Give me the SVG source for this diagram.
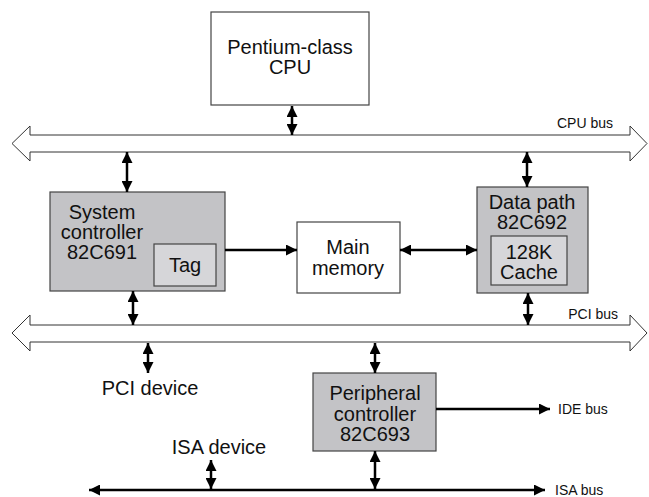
<svg xmlns="http://www.w3.org/2000/svg" width="649" height="497" viewBox="0 0 649 497">
<defs>
<marker id="ah" viewBox="0 0 10 10" refX="10" refY="5" markerWidth="11" markerHeight="11" markerUnits="userSpaceOnUse" orient="auto-start-reverse">
<path d="M0,0 L10,5 L0,10 Z" fill="#000"/>
</marker>
</defs>
<style>
text{font-family:"Liberation Sans",Arial,sans-serif;fill:#111}
.lbl{font-size:20px;text-anchor:middle}
.sm{font-size:14px}
.box{fill:#fff;stroke:#444;stroke-width:1.2}
.gbox{fill:#c3c3c6;stroke:#444;stroke-width:1.2}
.ibox{fill:#d6d6d9;stroke:#444;stroke-width:1.2}
.bus{fill:#fff;stroke:#333;stroke-width:1}
.c{stroke:#000;stroke-width:2.5;fill:none}
.d{marker-start:url(#ah);marker-end:url(#ah)}
.s{marker-end:url(#ah)}
</style>
<rect width="649" height="497" fill="#fff"/>
<g id="cpu-bus">
<path class="bus" d="M12,143.5 L30,126 L30,135 L630,135 L630,126 L647,143.5 L630,161 L630,152 L30,152 L30,161 Z"/>
<text class="sm" x="613" y="128" text-anchor="end">CPU bus</text>
</g>
<g id="pci-bus">
<path class="bus" d="M12,333 L30,315 L30,325 L630,325 L630,315 L647,333 L630,351 L630,342 L30,342 L30,351 Z"/>
<text class="sm" x="618" y="319" text-anchor="end">PCI bus</text>
</g>
<g id="cpu">
<rect class="box" x="211" y="12" width="158" height="93"/>
<text class="lbl" x="290" y="54">Pentium-class</text>
<text class="lbl" x="290" y="74">CPU</text>
</g>
<g id="system-controller">
<rect class="gbox" x="50" y="192" width="175" height="99"/>
<text class="lbl" x="102" y="219">System</text>
<text class="lbl" x="102" y="239">controller</text>
<text class="lbl" x="102" y="259">82C691</text>
<g id="tag">
<rect class="ibox" x="154" y="244" width="62" height="42"/>
<text class="lbl" x="185" y="272">Tag</text>
</g>
</g>
<g id="main-memory">
<rect class="box" x="297" y="222" width="103" height="71"/>
<text class="lbl" x="348" y="254">Main</text>
<text class="lbl" x="348" y="275">memory</text>
</g>
<g id="data-path">
<rect class="gbox" x="477" y="187" width="111" height="106"/>
<text class="lbl" x="532" y="209">Data path</text>
<text class="lbl" x="532" y="229">82C692</text>
<g id="cache">
<rect class="ibox" x="491" y="236" width="76" height="49"/>
<text class="lbl" x="529" y="259">128K</text>
<text class="lbl" x="529" y="279">Cache</text>
</g>
</g>
<g id="pci-device">
<text class="lbl" x="150" y="395">PCI device</text>
</g>
<g id="peripheral-controller">
<rect class="gbox" x="313" y="373" width="123" height="78"/>
<text class="lbl" x="375" y="400">Peripheral</text>
<text class="lbl" x="375" y="421">controller</text>
<text class="lbl" x="375" y="441">82C693</text>
</g>
<g id="isa-device">
<text class="lbl" x="219" y="454">ISA device</text>
</g>
<g id="ide-bus">
<text class="sm" x="558" y="414">IDE bus</text>
</g>
<g id="isa-bus">
<text class="sm" x="555" y="495">ISA bus</text>
</g>
<g id="connectors">
<line class="c d" x1="292" y1="106" x2="292" y2="135"/>
<line class="c d" x1="127" y1="152" x2="127" y2="192"/>
<line class="c d" x1="527" y1="152" x2="527" y2="187"/>
<line class="c d" x1="133" y1="291" x2="133" y2="325"/>
<line class="c d" x1="528" y1="293" x2="528" y2="325"/>
<line class="c s" x1="225" y1="250" x2="297" y2="250"/>
<line class="c d" x1="400" y1="250" x2="477" y2="250"/>
<line class="c d" x1="148" y1="343" x2="148" y2="373"/>
<line class="c d" x1="375" y1="343" x2="375" y2="373"/>
<line class="c s" x1="436" y1="409" x2="550" y2="409"/>
<line class="c d" x1="89" y1="490" x2="545" y2="490"/>
<line class="c d" x1="211" y1="460" x2="211" y2="489"/>
<line class="c d" x1="375" y1="451" x2="375" y2="489"/>
</g>
</svg>
